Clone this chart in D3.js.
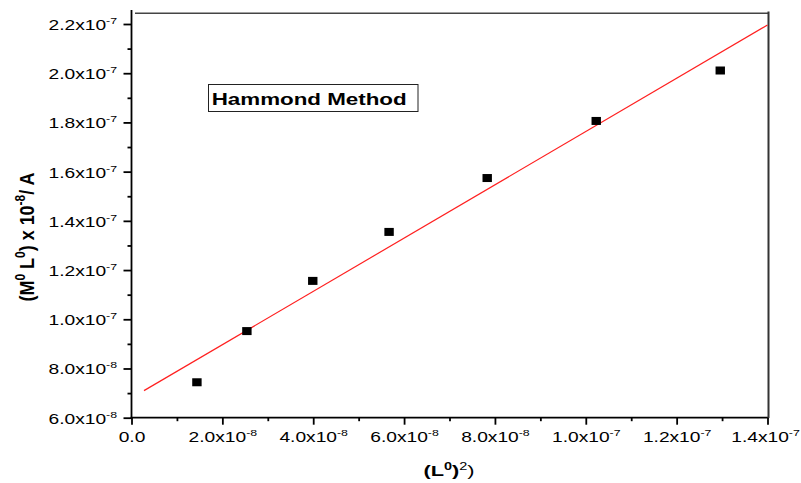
<!DOCTYPE html>
<html>
<head>
<meta charset="utf-8">
<script src="https://cdn.jsdelivr.net/npm/d3@7"></script>
<style>
  body { margin: 0; background: #fff; }
  text { font-family: "Liberation Sans", Arial, sans-serif; fill: #000; }
</style>
</head>
<body>
<div id="grafico"></div>
<script>
// valores
const xVals = [1.44e-8, 2.54e-8, 3.99e-8, 5.67e-8, 7.83e-8, 1.023e-7, 1.296e-7];
const yVals = [7.44e-8, 9.52e-8, 1.156e-7, 1.355e-7, 1.574e-7, 1.806e-7, 2.011e-7];

// reta ajustada (pontas)
const fitX = [2.75e-9, 1.4e-7];
const fitY = [7.10e-8, 2.196e-7];

const xTicks = [0, 2e-8, 4e-8, 6e-8, 8e-8, 1e-7, 1.2e-7, 1.4e-7];
const xMinor = [1e-8, 3e-8, 5e-8, 7e-8, 9e-8, 1.1e-7, 1.3e-7];
const yTicks = [6e-8, 8e-8, 1e-7, 1.2e-7, 1.4e-7, 1.6e-7, 1.8e-7, 2.0e-7, 2.2e-7];
const yMinor = [7e-8, 9e-8, 1.1e-7, 1.3e-7, 1.5e-7, 1.7e-7, 1.9e-7, 2.1e-7];

const titulo = "Hammond Method";

// Configurações
const W = 801, H = 483;
const sx = 1.37; // o original está esticado na horizontal

const svg = d3.select("#grafico").append("svg")
  .attr("width", W)
  .attr("height", H);

const x = d3.scaleLinear().domain([0, 1.4e-7]).range([131.5, 767.5]);
const y = d3.scaleLinear().domain([6e-8, 2.2e-7]).range([417.7, 24]);

function partes(v) {
  if (v === 0) return ["0.0", null];
  const e = Math.floor(Math.log10(v) + 1e-9);
  const m = v / Math.pow(10, e);
  return [m.toFixed(1) + "x10", "-" + (-e)];
}

function rotular(sel) {
  sel.each(function (d) {
    const t = d3.select(this);
    const [base, expo] = partes(d);
    t.text(null);
    t.append("tspan").text(base);
    if (expo) t.append("tspan").attr("dy", -6).attr("font-size", 9).text(expo);
  });
}

// eixo x
const gx = svg.append("g").attr("transform", `translate(0,${y.range()[0]})`);
gx.call(d3.axisBottom(x).tickValues(xTicks).tickSize(7).tickSizeOuter(0));
gx.select(".domain").remove();
gx.selectAll(".tick line").attr("stroke", "#000").attr("stroke-width", 1.8);
gx.selectAll(".tick text")
  .attr("y", 24).attr("dy", 0)
  .attr("x", (d, i) => i === xTicks.length - 1 ? -2.5 / sx : 0)
  .attr("font-size", 14)
  .attr("transform", `scale(${sx},1)`)
  .call(rotular);

svg.append("g").attr("transform", `translate(0,${y.range()[0]})`)
  .call(d3.axisBottom(x).tickValues(xMinor).tickSize(3.5).tickFormat(""))
  .call(g => g.select(".domain").remove())
  .selectAll("line").attr("stroke", "#000").attr("stroke-width", 1.8);

// eixo y
const gy = svg.append("g").attr("transform", `translate(${x.range()[0]},0)`);
gy.call(d3.axisLeft(y).tickValues(yTicks).tickSize(8).tickSizeOuter(0));
gy.select(".domain").remove();
gy.selectAll(".tick line").attr("stroke", "#000").attr("stroke-width", 1.8);
gy.selectAll(".tick text")
  .attr("x", -14.5 / sx).attr("dy", 5.5)
  .attr("font-size", 14)
  .attr("transform", `scale(${sx},1)`)
  .call(rotular);

svg.append("g").attr("transform", `translate(${x.range()[0]},0)`)
  .call(d3.axisLeft(y).tickValues(yMinor).tickSize(4).tickFormat(""))
  .call(g => g.select(".domain").remove())
  .selectAll("line").attr("stroke", "#000").attr("stroke-width", 1.8);

// moldura
svg.append("line")
  .attr("x1", 131.5).attr("x2", 131.5).attr("y1", 10).attr("y2", 418.6)
  .attr("stroke", "#000").attr("stroke-width", 1.8);
svg.append("line")
  .attr("x1", 130.6).attr("x2", 769).attr("y1", 417.7).attr("y2", 417.7)
  .attr("stroke", "#000").attr("stroke-width", 1.8);
svg.append("line")
  .attr("x1", 135).attr("x2", 769).attr("y1", 13.3).attr("y2", 13.3)
  .attr("stroke", "#444").attr("stroke-width", 1.5);
svg.append("line")
  .attr("x1", 768.5).attr("x2", 768.5).attr("y1", 11.5).attr("y2", 418)
  .attr("stroke", "#333").attr("stroke-width", 2);

// reta ajustada
svg.append("path")
  .datum(fitX.map((v, i) => [v, fitY[i]]))
  .attr("d", d3.line().x(d => x(d[0])).y(d => y(d[1])))
  .attr("fill", "none")
  .attr("stroke", "#ff2020")
  .attr("stroke-width", 1.2);

// pontos
svg.append("g").selectAll("rect")
  .data(xVals)
  .join("rect")
  .attr("x", (d) => x(d) - 4.7)
  .attr("y", (d, i) => y(yVals[i]) - 4)
  .attr("width", 9.4)
  .attr("height", 8)
  .attr("fill", "#000");

// caixa do título
svg.append("rect")
  .attr("x", 208.5).attr("y", 84.5).attr("width", 209.5).attr("height", 27)
  .attr("fill", "none").attr("stroke", "#222").attr("stroke-width", 1);
svg.append("text")
  .attr("x", 211.7).attr("y", 105)
  .attr("font-size", 16).attr("font-weight", "bold")
  .attr("textLength", 195).attr("lengthAdjust", "spacingAndGlyphs")
  .text(titulo);

// título do eixo x
const tx = svg.append("text")
  .attr("transform", `translate(449,476) scale(1.45,1)`)
  .attr("text-anchor", "middle")
  .attr("font-size", 15);
tx.append("tspan").attr("font-weight", "bold").text("(L");
tx.append("tspan").attr("font-weight", "bold").attr("font-size", 10).attr("dy", -6.5).text("0");
tx.append("tspan").attr("font-weight", "bold").attr("dy", 6.5).text(")");
tx.append("tspan").attr("font-size", 10).attr("dy", -6.5).text("2");
tx.append("tspan").attr("dy", 6.5).text(")");

// título do eixo y
const ty = svg.append("text")
  .attr("transform", `translate(33.5,237) scale(1.4,1) rotate(-90)`)
  .attr("text-anchor", "middle")
  .attr("font-size", 15)
  .attr("font-weight", "bold")
  .attr("textLength", 129).attr("lengthAdjust", "spacingAndGlyphs");
ty.append("tspan").text("(M");
ty.append("tspan").attr("font-size", 10).attr("dy", -6).text("0");
ty.append("tspan").attr("dy", 6).text(" L");
ty.append("tspan").attr("font-size", 10).attr("dy", -6).text("0");
ty.append("tspan").attr("dy", 6).text(") x 10");
ty.append("tspan").attr("font-size", 10).attr("dy", -6).text("-8");
ty.append("tspan").attr("dy", 6).text("/ A");
</script>
</body>
</html>
